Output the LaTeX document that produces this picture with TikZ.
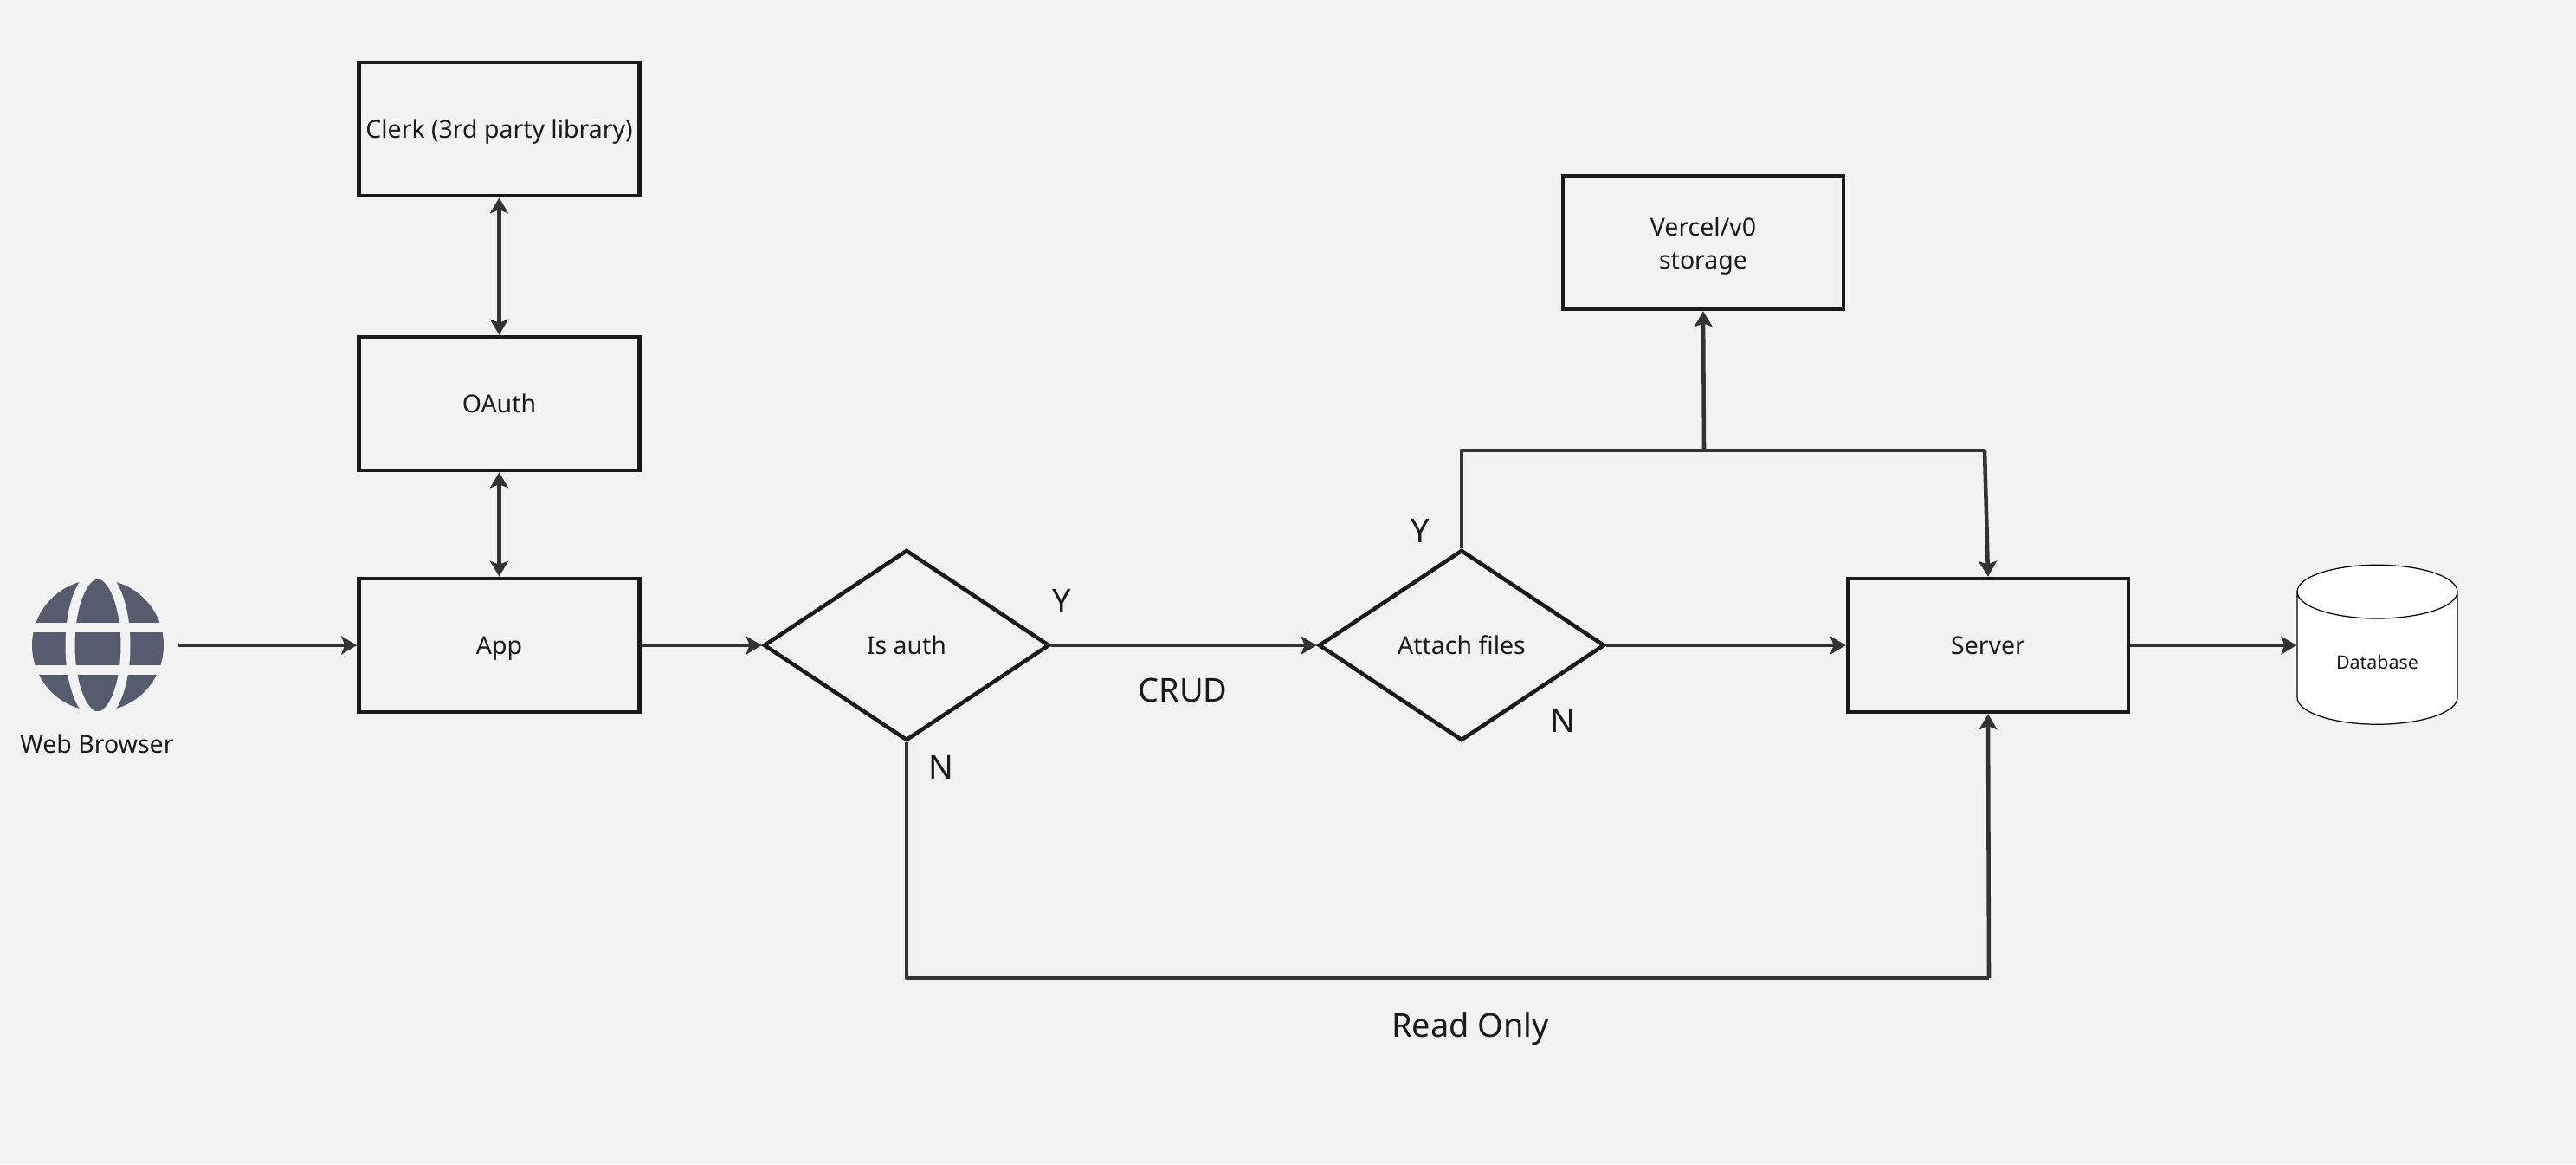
\documentclass[tikz,border=0pt]{standalone}
\usepackage{xcolor}
\usepackage{fontspec}
\setmainfont{Noto Sans}
\usetikzlibrary{arrows.meta,shapes.geometric}
\definecolor{pagegray}{RGB}{242,242,242}
\definecolor{edgeblack}{RGB}{26,26,26}
\definecolor{linegray}{RGB}{51,51,51}
\definecolor{globegray}{RGB}{86,92,110}
\tikzset{
    boxnode/.style={draw=edgeblack, line width=1.3pt, rectangle, inner sep=0pt, align=center,
        minimum width=3.24cm, minimum height=1.54cm, text height=7.2pt, text depth=1pt,
        font=\fontsize{8.1}{10.8}\selectfont, text=edgeblack},
    decisionnode/.style={draw=edgeblack, line width=1.3pt, diamond, inner sep=0pt, shape aspect=1.5,
        minimum width=3.3cm, minimum height=2.2cm, font=\fontsize{8.1}{10.8}\selectfont, text=edgeblack},
    flowtip/.tip={Stealth[length=0.18cm, width=0.21cm, inset=0.04cm]},
    flowline/.style={draw=linegray, line width=1.3pt, -flowtip},
    bothline/.style={flowline, flowtip-flowtip},
    plainline/.style={draw=linegray, line width=1.3pt, line join=round},
    flowlabel/.style={font=\fontsize{10.8}{12}\selectfont, text=edgeblack, inner sep=0pt},
}
\begin{document}
\begin{tikzpicture}
    \fill[pagegray] (0,0) rectangle (29.75,13.44);

    \node[boxnode] (clerk) at (5.765,11.95) {Clerk (3rd party library)};
    \node[boxnode] (oauth) at (5.765,8.78) {OAuth};
    \node[boxnode] (app) at (5.765,5.99) {App};
    \node[decisionnode] (isauth) at (10.47,5.99) {Is auth};
    \node[decisionnode] (attach) at (16.88,5.99) {Attach files};
    \node[boxnode] (server) at (22.96,5.99) {Server};
    \node[boxnode, text height=18.4pt] (storage) at (19.67,10.64) {Vercel/v0\\storage};
    \node[draw=black, line width=0.35pt, fill=white, cylinder, shape border rotate=90, aspect=0.65, inner sep=0pt,
        minimum width=1.85cm, minimum height=1.84cm, text height=7.2pt, text depth=0pt,
        font=\fontsize{6.1}{8}\selectfont, text=edgeblack] (database) at (27.455,5.84) {Database};

    \node[circle, fill=globegray, inner sep=0pt, minimum size=1.52cm] (browser) at (1.13,5.99) {};
    \draw[pagegray, line width=0.11cm] (browser.center) ellipse (0.32 and 0.82);
    \draw[pagegray, line width=0.11cm] (0.25,6.20) -- (2.01,6.20);
    \draw[pagegray, line width=0.11cm] (0.25,5.71) -- (2.01,5.71);
    \node[font=\fontsize{8.1}{10}\selectfont, text=edgeblack, inner sep=0pt] (browserlabel) at (1.12,4.85) {Web Browser};

    \coordinate (yesleft) at (16.88,8.24);
    \coordinate (yesright) at (22.92,8.24);
    \coordinate (yesmid) at (19.68,8.24);
    \coordinate (noleft) at (10.47,2.15);
    \coordinate (noright) at (22.97,2.15);

    \draw[bothline] (oauth) -- (clerk);
    \draw[bothline] (app) -- (oauth);
    \draw[flowline, shorten <=0.16cm] (browser) -- (app);
    \draw[flowline] (app) -- (isauth);
    \draw[flowline] (isauth) -- (attach);
    \draw[flowline] (attach) -- (server);
    \draw[flowline] (server.east) -- (server.east -| database.west);
    \draw[plainline] (attach.north) -- (yesleft) -- (yesright);
    \draw[flowline] (yesright) -- (server.north);
    \draw[flowline] (yesmid) -- (storage.south);
    \draw[plainline] (isauth.south) -- (noleft) -- (noright);
    \draw[flowline] (noright) -- (server.south);

    \node[flowlabel] (yesauth) at (12.26,6.50) {Y};
    \node[flowlabel] (noauth) at (10.87,4.58) {N};
    \node[flowlabel] (crud) at (13.66,5.47) {CRUD};
    \node[flowlabel] (yesfiles) at (16.40,7.31) {Y};
    \node[flowlabel] (nofiles) at (18.05,5.12) {N};
    \node[flowlabel] (readonly) at (16.98,1.56) {Read Only};
\end{tikzpicture}
\end{document}
